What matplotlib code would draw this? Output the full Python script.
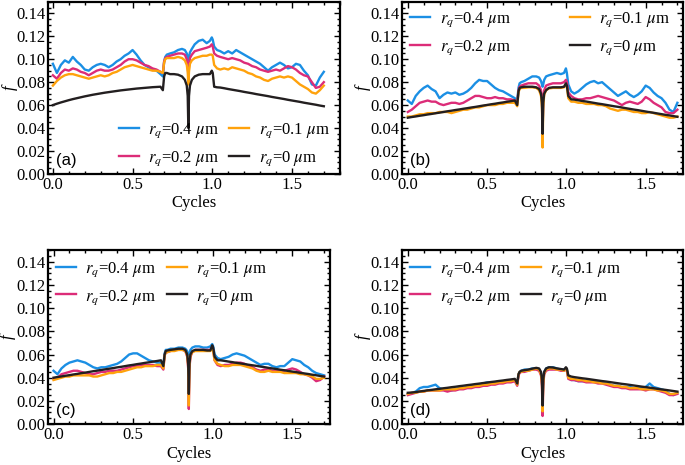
import matplotlib
matplotlib.use('Agg')
import matplotlib.pyplot as plt
from matplotlib.ticker import MultipleLocator, FormatStrFormatter

plt.rcParams['font.family'] = ['Liberation Serif', 'DejaVu Serif']
plt.rcParams['mathtext.fontset'] = 'stix'
plt.rcParams['font.size'] = 12

# Cycle positions shared by every curve (denser around the jumps and the dip).
x = [0.000, 0.025, 0.050, 0.075, 0.100, 0.125, 0.150, 0.175, 0.200, 0.225,
     0.250, 0.275, 0.300, 0.325, 0.350, 0.375, 0.400, 0.425, 0.450, 0.475,
     0.500, 0.525, 0.550, 0.575, 0.600, 0.625, 0.650, 0.675,
     0.690, 0.698, 0.705, 0.715, 0.735, 0.760, 0.785, 0.810, 0.828, 0.840,
     0.846, 0.850, 0.854, 0.860, 0.872, 0.890, 0.915, 0.940, 0.965, 0.985,
     0.997, 1.003, 1.012, 1.030,
     1.050, 1.075, 1.100, 1.125, 1.150, 1.175, 1.200, 1.225, 1.250, 1.275,
     1.300, 1.325, 1.350, 1.375, 1.400, 1.425, 1.450, 1.475, 1.500, 1.525,
     1.550, 1.575, 1.600, 1.625, 1.650, 1.675, 1.700]

labels = [r'$r_q$=0.4 $\mu$m', r'$r_q$=0.2 $\mu$m', r'$r_q$=0.1 $\mu$m', r'$r_q$=0 $\mu$m']
colors = ['#1b8fe4', '#dc2c78', '#ffa20c', '#231f20']

# ---- panel (a)
a_04 = [0.096, 0.088, 0.095, 0.099, 0.097, 0.102, 0.098, 0.095, 0.091, 0.090,
        0.093, 0.095, 0.096, 0.095, 0.093, 0.095, 0.098, 0.100, 0.103, 0.105,
        0.108, 0.104, 0.099, 0.095, 0.093, 0.091, 0.090, 0.087,
        0.085, 0.098, 0.102, 0.104, 0.105, 0.106, 0.108, 0.109, 0.108, 0.105,
        0.101, 0.099, 0.102, 0.106, 0.109, 0.113, 0.116, 0.117, 0.114, 0.116,
        0.119, 0.117, 0.111, 0.108,
        0.107, 0.105, 0.107, 0.105, 0.108, 0.106, 0.104, 0.102, 0.100, 0.098,
        0.096, 0.093, 0.090, 0.093, 0.095, 0.097, 0.095, 0.092, 0.093, 0.096,
        0.095, 0.090, 0.086, 0.078, 0.077, 0.084, 0.089]
a_02 = [0.086, 0.083, 0.088, 0.091, 0.090, 0.092, 0.091, 0.089, 0.088, 0.086,
        0.088, 0.090, 0.091, 0.090, 0.090, 0.091, 0.093, 0.095, 0.098, 0.100,
        0.100, 0.099, 0.097, 0.095, 0.094, 0.092, 0.091, 0.089,
        0.088, 0.098, 0.101, 0.102, 0.103, 0.104, 0.105, 0.105, 0.104, 0.100,
        0.094, 0.085, 0.094, 0.101, 0.104, 0.107, 0.108, 0.109, 0.110, 0.111,
        0.113, 0.111, 0.105, 0.103,
        0.102, 0.101, 0.100, 0.101, 0.100, 0.099, 0.097, 0.096, 0.094, 0.093,
        0.091, 0.090, 0.089, 0.090, 0.091, 0.090, 0.092, 0.094, 0.093, 0.091,
        0.088, 0.086, 0.085, 0.080, 0.075, 0.076, 0.080]
a_01 = [0.077, 0.081, 0.084, 0.086, 0.087, 0.087, 0.086, 0.085, 0.084, 0.083,
        0.084, 0.085, 0.086, 0.085, 0.086, 0.088, 0.089, 0.091, 0.093, 0.094,
        0.095, 0.094, 0.093, 0.092, 0.091, 0.090, 0.090, 0.089,
        0.088, 0.097, 0.100, 0.101, 0.101, 0.101, 0.102, 0.101, 0.099, 0.095,
        0.089, 0.078, 0.089, 0.096, 0.099, 0.101, 0.102, 0.103, 0.103, 0.104,
        0.104, 0.103, 0.095, 0.092,
        0.091, 0.092, 0.091, 0.093, 0.092, 0.091, 0.090, 0.088, 0.087, 0.085,
        0.084, 0.082, 0.081, 0.083, 0.084, 0.085, 0.084, 0.085, 0.084, 0.081,
        0.078, 0.076, 0.074, 0.071, 0.070, 0.073, 0.077]
a_00 = [0.0600, 0.0612, 0.0623, 0.0633, 0.0643, 0.0652, 0.0660, 0.0668, 0.0676, 0.0683,
        0.0690, 0.0696, 0.0702, 0.0708, 0.0713, 0.0718, 0.0723, 0.0728, 0.0732, 0.0736,
        0.0740, 0.0744, 0.0747, 0.0750, 0.0753, 0.0756, 0.0758, 0.0760,
        0.073, 0.085, 0.088, 0.088, 0.087, 0.087, 0.0865, 0.085, 0.082, 0.077,
        0.068, 0.040, 0.068, 0.077, 0.082, 0.085, 0.0865, 0.087, 0.087, 0.087,
        0.090, 0.088, 0.076, 0.0755,
        0.0753, 0.0747, 0.0740, 0.0734, 0.0728, 0.0722, 0.0715, 0.0709, 0.0703, 0.0696,
        0.0690, 0.0684, 0.0678, 0.0671, 0.0665, 0.0659, 0.0653, 0.0646, 0.0640, 0.0634,
        0.0628, 0.0621, 0.0615, 0.0609, 0.0603, 0.0596, 0.0590]

# ---- panel (b)
b_04 = [0.064, 0.061, 0.068, 0.072, 0.075, 0.077, 0.074, 0.072, 0.066, 0.069,
        0.071, 0.070, 0.071, 0.069, 0.070, 0.072, 0.075, 0.079, 0.082, 0.081,
        0.081, 0.078, 0.075, 0.073, 0.072, 0.070, 0.068, 0.066,
        0.064, 0.075, 0.079, 0.080, 0.081, 0.083, 0.085, 0.085, 0.084, 0.081,
        0.078, 0.076, 0.078, 0.082, 0.085, 0.086, 0.087, 0.088, 0.087, 0.088,
        0.092, 0.088, 0.078, 0.072,
        0.070, 0.072, 0.075, 0.078, 0.080, 0.081, 0.079, 0.080, 0.077, 0.074,
        0.071, 0.068, 0.070, 0.072, 0.069, 0.067, 0.069, 0.072, 0.077, 0.075,
        0.071, 0.068, 0.066, 0.062, 0.056, 0.054, 0.062]
b_02 = [0.054, 0.056, 0.059, 0.062, 0.063, 0.064, 0.063, 0.063, 0.061, 0.060,
        0.061, 0.062, 0.062, 0.061, 0.062, 0.064, 0.066, 0.068, 0.068, 0.067,
        0.066, 0.066, 0.067, 0.066, 0.066, 0.065, 0.065, 0.064,
        0.062, 0.073, 0.076, 0.077, 0.078, 0.079, 0.079, 0.079, 0.077, 0.073,
        0.065, 0.040, 0.065, 0.073, 0.077, 0.078, 0.079, 0.079, 0.079, 0.080,
        0.082, 0.080, 0.071, 0.068,
        0.066, 0.065, 0.065, 0.066, 0.066, 0.067, 0.068, 0.067, 0.066, 0.065,
        0.064, 0.062, 0.060, 0.062, 0.063, 0.062, 0.061, 0.063, 0.067, 0.065,
        0.062, 0.060, 0.058, 0.054, 0.053, 0.053, 0.056]
b_01 = [0.050, 0.050, 0.051, 0.052, 0.052, 0.053, 0.053, 0.053, 0.054, 0.054,
        0.054, 0.053, 0.054, 0.055, 0.056, 0.056, 0.057, 0.058, 0.058, 0.059,
        0.060, 0.060, 0.060, 0.061, 0.061, 0.062, 0.062, 0.062,
        0.059, 0.071, 0.074, 0.075, 0.075, 0.0755, 0.0755, 0.075, 0.073, 0.068,
        0.058, 0.023, 0.058, 0.069, 0.073, 0.0745, 0.075, 0.075, 0.075, 0.0755,
        0.078, 0.076, 0.066, 0.063,
        0.063, 0.062, 0.062, 0.061, 0.061, 0.061, 0.060, 0.060, 0.059, 0.057,
        0.056, 0.055, 0.056, 0.056, 0.055, 0.054, 0.054, 0.053, 0.053, 0.054,
        0.053, 0.052, 0.051, 0.050, 0.049, 0.049, 0.050]
b_00 = [0.0490, 0.0496, 0.0501, 0.0507, 0.0512, 0.0518, 0.0523, 0.0529, 0.0534, 0.0540,
        0.0546, 0.0551, 0.0557, 0.0562, 0.0568, 0.0573, 0.0579, 0.0584, 0.0590, 0.0596,
        0.0601, 0.0607, 0.0612, 0.0618, 0.0623, 0.0629, 0.0634, 0.0640,
        0.060, 0.072, 0.075, 0.0755, 0.076, 0.076, 0.076, 0.0755, 0.074, 0.070,
        0.062, 0.035, 0.062, 0.070, 0.073, 0.075, 0.0755, 0.0755, 0.0755, 0.076,
        0.079, 0.077, 0.068, 0.065,
        0.0648, 0.0642, 0.0636, 0.0631, 0.0625, 0.0619, 0.0613, 0.0608, 0.0602, 0.0596,
        0.0590, 0.0585, 0.0579, 0.0573, 0.0567, 0.0561, 0.0556, 0.0550, 0.0544, 0.0538,
        0.0533, 0.0527, 0.0521, 0.0515, 0.0510, 0.0504, 0.0498]

# ---- panel (c)
c_04 = [0.046, 0.043, 0.048, 0.051, 0.053, 0.054, 0.055, 0.054, 0.053, 0.051,
        0.049, 0.048, 0.049, 0.049, 0.050, 0.051, 0.052, 0.054, 0.057, 0.060,
        0.061, 0.061, 0.059, 0.057, 0.055, 0.054, 0.053, 0.053,
        0.051, 0.061, 0.064, 0.064, 0.065, 0.065, 0.066, 0.066, 0.065, 0.063,
        0.060, 0.058, 0.060, 0.064, 0.066, 0.067, 0.067, 0.066, 0.066, 0.067,
        0.069, 0.067, 0.060, 0.057,
        0.056, 0.057, 0.058, 0.060, 0.061, 0.060, 0.059, 0.057, 0.055, 0.053,
        0.051, 0.052, 0.052, 0.050, 0.049, 0.050, 0.050, 0.053, 0.056, 0.055,
        0.054, 0.051, 0.049, 0.046, 0.044, 0.043, 0.042]
c_02 = [0.039, 0.040, 0.043, 0.044, 0.045, 0.046, 0.046, 0.045, 0.044, 0.043,
        0.043, 0.044, 0.045, 0.045, 0.046, 0.046, 0.046, 0.047, 0.048, 0.049,
        0.050, 0.050, 0.051, 0.051, 0.051, 0.051, 0.050, 0.050,
        0.047, 0.059, 0.062, 0.062, 0.063, 0.064, 0.064, 0.064, 0.063, 0.058,
        0.048, 0.013, 0.048, 0.058, 0.062, 0.064, 0.064, 0.064, 0.064, 0.064,
        0.066, 0.064, 0.055, 0.051,
        0.050, 0.051, 0.051, 0.052, 0.053, 0.053, 0.052, 0.050, 0.049, 0.047,
        0.046, 0.047, 0.047, 0.046, 0.046, 0.046, 0.046, 0.047, 0.048, 0.047,
        0.045, 0.043, 0.042, 0.040, 0.037, 0.038, 0.041]
c_01 = [0.038, 0.039, 0.040, 0.041, 0.041, 0.042, 0.042, 0.042, 0.042, 0.042,
        0.041, 0.041, 0.042, 0.043, 0.044, 0.044, 0.045, 0.045, 0.046, 0.047,
        0.048, 0.049, 0.049, 0.050, 0.050, 0.050, 0.051, 0.051,
        0.048, 0.059, 0.062, 0.062, 0.063, 0.063, 0.064, 0.064, 0.063, 0.059,
        0.050, 0.016, 0.050, 0.059, 0.062, 0.063, 0.063, 0.063, 0.063, 0.063,
        0.065, 0.063, 0.055, 0.052,
        0.051, 0.050, 0.050, 0.051, 0.051, 0.051, 0.050, 0.049, 0.048, 0.046,
        0.045, 0.045, 0.046, 0.045, 0.045, 0.045, 0.044, 0.044, 0.044, 0.044,
        0.043, 0.043, 0.042, 0.041, 0.039, 0.039, 0.040]
c_00 = [0.0400, 0.0406, 0.0411, 0.0417, 0.0422, 0.0428, 0.0433, 0.0439, 0.0444, 0.0450,
        0.0456, 0.0461, 0.0467, 0.0472, 0.0478, 0.0483, 0.0489, 0.0494, 0.0500, 0.0506,
        0.0511, 0.0517, 0.0522, 0.0528, 0.0533, 0.0539, 0.0544, 0.0550,
        0.050, 0.060, 0.063, 0.0635, 0.064, 0.0645, 0.065, 0.065, 0.064, 0.060,
        0.052, 0.026, 0.052, 0.060, 0.063, 0.064, 0.064, 0.064, 0.0635, 0.0635,
        0.068, 0.066, 0.058, 0.055,
        0.0550, 0.0545, 0.0539, 0.0534, 0.0528, 0.0523, 0.0518, 0.0512, 0.0507, 0.0502,
        0.0496, 0.0491, 0.0485, 0.0480, 0.0475, 0.0469, 0.0464, 0.0458, 0.0453, 0.0448,
        0.0442, 0.0437, 0.0432, 0.0426, 0.0421, 0.0415, 0.0410]

# ---- panel (d)
d_04 = [0.026, 0.027, 0.028, 0.031, 0.032, 0.032, 0.033, 0.034, 0.031, 0.030,
        0.029, 0.029, 0.030, 0.031, 0.031, 0.032, 0.033, 0.033, 0.034, 0.035,
        0.036, 0.036, 0.036, 0.037, 0.037, 0.037, 0.038, 0.038,
        0.034, 0.043, 0.045, 0.046, 0.047, 0.047, 0.048, 0.048, 0.047, 0.044,
        0.038, 0.022, 0.038, 0.045, 0.048, 0.049, 0.049, 0.048, 0.047, 0.047,
        0.048, 0.047, 0.040, 0.038,
        0.038, 0.037, 0.037, 0.037, 0.037, 0.037, 0.036, 0.036, 0.035, 0.034,
        0.033, 0.033, 0.032, 0.032, 0.032, 0.031, 0.031, 0.031, 0.032, 0.035,
        0.032, 0.031, 0.030, 0.029, 0.026, 0.025, 0.027]
d_02 = [0.025, 0.026, 0.027, 0.028, 0.028, 0.029, 0.029, 0.029, 0.029, 0.029,
        0.028, 0.029, 0.029, 0.030, 0.030, 0.031, 0.031, 0.032, 0.032, 0.033,
        0.033, 0.034, 0.034, 0.035, 0.035, 0.036, 0.036, 0.037,
        0.033, 0.042, 0.044, 0.045, 0.045, 0.046, 0.047, 0.047, 0.046, 0.042,
        0.033, 0.007, 0.033, 0.043, 0.046, 0.047, 0.047, 0.047, 0.046, 0.046,
        0.047, 0.046, 0.039, 0.038,
        0.038, 0.037, 0.037, 0.036, 0.036, 0.036, 0.035, 0.035, 0.034, 0.033,
        0.032, 0.032, 0.031, 0.031, 0.030, 0.030, 0.030, 0.030, 0.029, 0.030,
        0.030, 0.029, 0.028, 0.027, 0.025, 0.025, 0.026]
d_01 = [0.026, 0.027, 0.027, 0.028, 0.028, 0.029, 0.029, 0.029, 0.029, 0.030,
        0.030, 0.030, 0.030, 0.031, 0.031, 0.032, 0.032, 0.033, 0.033, 0.034,
        0.034, 0.035, 0.035, 0.036, 0.036, 0.037, 0.037, 0.038,
        0.034, 0.043, 0.045, 0.045, 0.046, 0.046, 0.047, 0.048, 0.047, 0.043,
        0.035, 0.011, 0.035, 0.044, 0.047, 0.048, 0.048, 0.047, 0.047, 0.046,
        0.048, 0.047, 0.040, 0.039,
        0.039, 0.038, 0.038, 0.037, 0.037, 0.036, 0.036, 0.035, 0.035, 0.034,
        0.033, 0.033, 0.032, 0.032, 0.031, 0.031, 0.031, 0.030, 0.030, 0.030,
        0.030, 0.029, 0.029, 0.028, 0.026, 0.026, 0.027]
d_00 = [0.0270, 0.0272, 0.0276, 0.0281, 0.0286, 0.0291, 0.0295, 0.0300, 0.0304, 0.0309,
        0.0313, 0.0318, 0.0322, 0.0327, 0.0331, 0.0336, 0.0340, 0.0345, 0.0349, 0.0354,
        0.0358, 0.0363, 0.0367, 0.0372, 0.0376, 0.0381, 0.0385, 0.0390,
        0.035, 0.043, 0.045, 0.046, 0.0465, 0.047, 0.0478, 0.0485, 0.048, 0.045,
        0.038, 0.016, 0.038, 0.045, 0.048, 0.049, 0.0488, 0.048, 0.0475, 0.047,
        0.049, 0.048, 0.042, 0.041,
        0.0405, 0.0400, 0.0395, 0.0391, 0.0386, 0.0381, 0.0376, 0.0371, 0.0367, 0.0362,
        0.0357, 0.0352, 0.0347, 0.0343, 0.0338, 0.0333, 0.0328, 0.0323, 0.0319, 0.0314,
        0.0309, 0.0304, 0.0299, 0.0295, 0.0290, 0.0285, 0.0280]

# tag, series, axes rect, xlim, legend loc, legend anchor, column spacing, ylabel x
panels = [
    ('(a)', [a_04, a_02, a_01, a_00], [0.070, 0.626, 0.426, 0.370], (-0.031, 1.80),
     'lower left', (0.215, -0.013), 0.62, -0.132),
    ('(b)', [b_04, b_02, b_01, b_00], [0.587, 0.626, 0.410, 0.370], (-0.036, 1.735),
     'upper left', (0.0, 0.998), 3.55, -0.140),
    ('(c)', [c_04, c_02, c_01, c_00], [0.070, 0.088, 0.412, 0.374], (-0.035, 1.738),
     'upper left', (0.0, 0.99), 0.62, -0.143),
    ('(d)', [d_04, d_02, d_01, d_00], [0.587, 0.088, 0.410, 0.374], (-0.036, 1.735),
     'upper left', (0.0, 0.99), 0.62, -0.140),
]

fig = plt.figure(figsize=(6.85, 4.65), dpi=100)

for tag, series, rect, xlim, loc, anchor, colsp, ylx in panels:
    ax = fig.add_axes(rect)
    for ys, lab, col in zip(series, labels, colors):
        ax.plot(x, ys, color=col, lw=1.7, label=lab)
    ax.set_xlim(*xlim)
    ax.set_ylim(0, 0.15)
    ax.xaxis.set_minor_locator(MultipleLocator(0.1))
    ax.yaxis.set_minor_locator(MultipleLocator(0.005))
    ax.set_xticks([0.0, 0.5, 1.0, 1.5])
    ax.set_yticks([0.0, 0.02, 0.04, 0.06, 0.08, 0.10, 0.12, 0.14])
    ax.xaxis.set_major_formatter(FormatStrFormatter('%.1f'))
    ax.yaxis.set_major_formatter(FormatStrFormatter('%.2f'))
    ax.tick_params(which='both', direction='in', top=True, right=True, width=1.0, pad=2)
    ax.tick_params(which='major', length=4)
    ax.tick_params(which='minor', length=2)
    for sp in ax.spines.values():
        sp.set_linewidth(1.6)
    ax.set_xlabel('Cycles', labelpad=2)
    ax.set_ylabel('f', style='italic', va='center')
    ax.yaxis.set_label_coords(ylx, 0.5)
    ax.text(0.027, 0.08, tag, transform=ax.transAxes, fontsize=12,
            family='Liberation Sans', va='center')
    ax.legend(loc=loc, bbox_to_anchor=anchor, ncol=2, frameon=False, borderpad=0,
              handlelength=1.2, labelspacing=0.55, columnspacing=colsp,
              handletextpad=0.55)

fig.savefig('out.png', dpi=100)
